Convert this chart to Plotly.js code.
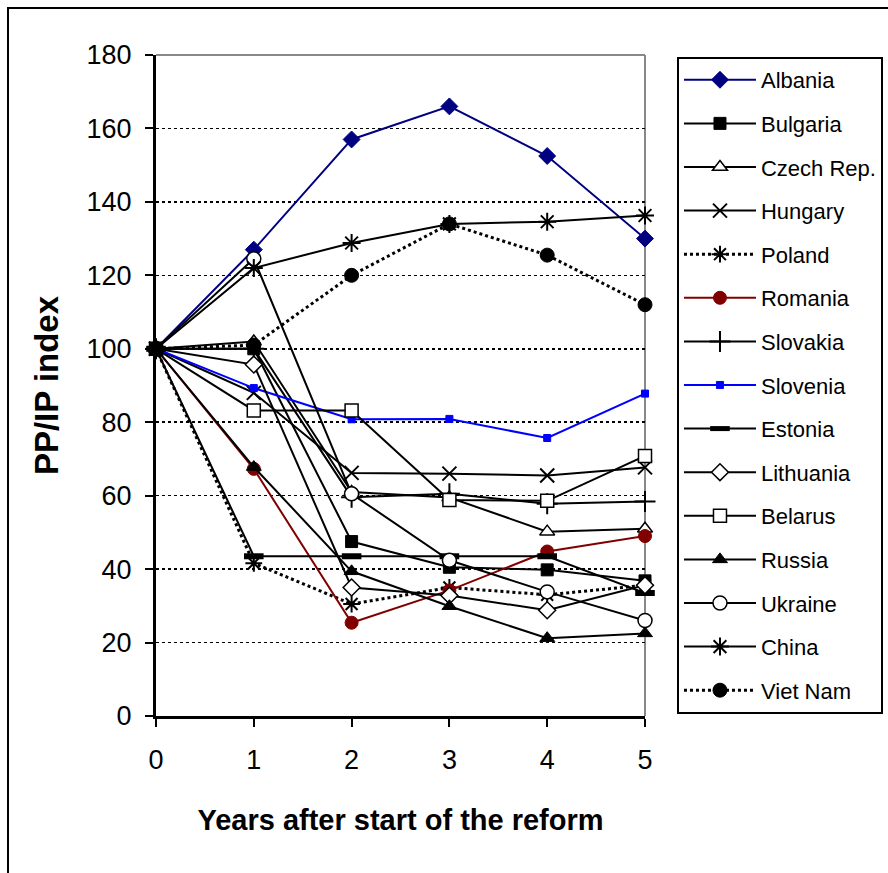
<!DOCTYPE html>
<html>
<head>
<meta charset="utf-8">
<script src="https://cdn.plot.ly/plotly-3.0.1.min.js"></script>
<style>
html,body{margin:0;padding:0;background:#fff;}
#wrap{position:relative;width:888px;height:873px;overflow:hidden;}
#chart{position:absolute;left:0;top:0;width:940px;height:873px;}
#frame{position:absolute;left:7px;top:7px;width:900px;height:900px;border-left:2px solid #000;border-top:2px solid #000;pointer-events:none;}
</style>
</head>
<body>
<div id="wrap"><div id="chart"></div><div id="frame"></div></div>
<script>
const years = [0, 1, 2, 3, 4, 5];
const countries = ["Albania","Bulgaria","Czech Rep.","Hungary","Poland","Romania","Slovakia","Slovenia","Estonia","Lithuania","Belarus","Russia","Ukraine","China","Viet Nam"];
const albania   = [100, 127, 157, 166, 152.5, 130];
const bulgaria  = [100, 100, 47.5, 40.5, 39.8, 36.8];
const czech     = [100, 102, 61, 59.5, 50.2, 51];
const hungary   = [100, 88, 66.2, 66, 65.5, 67.7];
const poland    = [100, 41.6, 30.5, 35, 33, 35.6];
const romania   = [100, 67.3, 25.4, 34.2, 44.8, 49];
const slovakia  = [100, 100, 59.6, 60.5, 57.8, 58.4];
const slovenia  = [100, 89.3, 80.8, 80.9, 75.7, 87.8];
const estonia   = [100, 43.5, 43.5, 43.5, 43.5, 33.5];
const lithuania = [100, 95.7, 35, 32.8, 28.8, 35.6];
const belarus   = [100, 83.2, 83.2, 58.8, 58.6, 70.8];
const russia    = [100, 67.8, 39.4, 29.9, 21.2, 22.5];
const ukraine   = [100, 124.5, 60.5, 42.4, 33.8, 26];
const china     = [100, 122, 128.8, 134, 134.6, 136.3];
const vietnam   = [100, 101, 120, 134, 125.5, 112];
const yTicks = [0, 20, 40, 60, 80, 100, 120, 140, 160, 180];

const seriesValues = [albania, bulgaria, czech, hungary, poland, romania, slovakia, slovenia, estonia, lithuania, belarus, russia, ukraine, china, vietnam];
// fill: colour inside the marker; line-only symbols use the series colour
const styles = [
  {color:"#000080", dash:"solid", symbol:"diamond", size:13, fill:"#000080", lw:1},
  {color:"#000000", dash:"solid", symbol:"square", size:12, fill:"#000000", lw:1},
  {color:"#000000", dash:"solid", symbol:"triangle-up", size:13, fill:"#ffffff", lw:1.5},
  {color:"#000000", dash:"solid", symbol:"x-thin-open", size:14, fill:"#000000", lw:2},
  {color:"#000000", dash:"dot", symbol:"asterisk-open", size:14, fill:"#000000", lw:2},
  {color:"#800000", dash:"solid", symbol:"circle", size:13, fill:"#800000", lw:1},
  {color:"#000000", dash:"solid", symbol:"cross-thin-open", size:15, fill:"#000000", lw:2},
  {color:"#0000FF", dash:"solid", symbol:"square", size:7, fill:"#0000FF", lw:1},
  {color:"#000000", dash:"solid", symbol:"line-ew-open", size:14, fill:"#000000", lw:6},
  {color:"#000000", dash:"solid", symbol:"diamond", size:13, fill:"#ffffff", lw:1.5},
  {color:"#000000", dash:"solid", symbol:"square", size:13, fill:"#ffffff", lw:1.5},
  {color:"#000000", dash:"solid", symbol:"triangle-up", size:13, fill:"#000000", lw:1},
  {color:"#000000", dash:"solid", symbol:"circle", size:14, fill:"#ffffff", lw:1.5},
  {color:"#000000", dash:"solid", symbol:"asterisk-open", size:15, fill:"#000000", lw:2},
  {color:"#000000", dash:"dot", symbol:"circle", size:14, fill:"#000000", lw:1}
];

const traces = countries.map((name, i) => {
  const s = styles[i];
  return {
    x: years, y: seriesValues[i], name: name, type: "scatter", mode: "lines+markers",
    legendgroup: "g" + i, cliponaxis: false,
    line: {color: s.color, width: s.dash === "dot" ? 3 : 2, dash: s.dash},
    marker: {symbol: s.symbol, size: s.size, color: s.fill,
             line: {color: s.color, width: s.lw}}
  };
});

const tickFont = {family: "Liberation Sans, Arial, sans-serif", size: 27, color: "#000"};
const layout = {
  width: 940, height: 873,
  margin: {l: 156, r: 295, t: 55, b: 157},
  paper_bgcolor: "#ffffff", plot_bgcolor: "#ffffff",
  showlegend: true,
  legend: {
    x: 1.0654, y: 0.997, xanchor: "left", yanchor: "top",
    bordercolor: "#000", borderwidth: 2, bgcolor: "#fff",
    font: {family: "Liberation Sans, Arial, sans-serif", size: 22, color: "#000"},
    tracegroupgap: 12, traceorder: "grouped", itemwidth: 72
  },
  xaxis: {
    range: [0, 5], tickvals: years, ticktext: years.map(String),
    showgrid: false, zeroline: false, showline: true, linecolor: "#000", linewidth: 3,
    ticks: "outside", ticklen: 8, tickwidth: 2, tickcolor: "#000",
    tickfont: tickFont, ticklabelstandoff: 10,
    title: {text: "Years after start of the reform", standoff: 36,
            font: {family: "Liberation Sans, Arial, sans-serif", size: 29, weight: "bold", color: "#000"}}
  },
  yaxis: {
    range: [0, 180], tickvals: yTicks, ticktext: yTicks.map(String),
    showgrid: true, gridcolor: "#000", gridwidth: 1.5, griddash: "dot",
    zeroline: false, showline: true, linecolor: "#000", linewidth: 3,
    ticks: "outside", ticklen: 8, tickwidth: 2, tickcolor: "#000",
    tickfont: tickFont, ticklabelstandoff: 8,
    title: {text: "PP/IP index", standoff: 18,
            font: {family: "Liberation Sans, Arial, sans-serif", size: 33, weight: "bold", color: "#000"}}
  },
  shapes: [
    {type: "line", xref: "paper", yref: "paper", x0: 0, x1: 1, y0: 1, y1: 1, line: {color: "#888", width: 2}, layer: "below"},
    {type: "line", xref: "paper", yref: "paper", x0: 1, x1: 1, y0: 0, y1: 1, line: {color: "#888", width: 2}, layer: "below"}
  ]
};

Plotly.newPlot("chart", traces, layout, {displayModeBar: false, staticPlot: true});
</script>
</body>
</html>
